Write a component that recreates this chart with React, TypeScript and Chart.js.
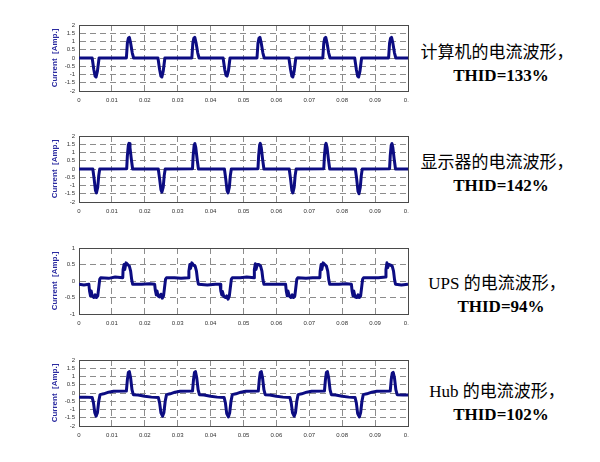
import React, { useEffect, useRef } from 'react';
import { Chart, registerables } from 'chart.js';

Chart.register(...registerables);

// ---- tick values / labels ----
const xTickValues = [0, 0.01, 0.02, 0.03, 0.04, 0.05, 0.06, 0.07, 0.08, 0.09, 0.1];
const xTickLabels = ['0', '0.01', '0.02', '0.03', '0.04', '0.05', '0.06', '0.07', '0.08', '0.09', '0.1'];
const yTicksTwoAmp = [-2, -1.5, -1, -0.5, 0, 0.5, 1, 1.5, 2];
const yLabelsTwoAmp = ['-2', '-1.5', '-1', '-0.5', '0', '0.5', '1', '1.5', '2'];
const yTicksOneAmp = [-1, -0.5, 0, 0.5, 1];
const yLabelsOneAmp = ['-1', '-0.5', '0', '0.5', '1'];

const axisTitle = 'Current  [Amp.]';
const panelNames = ['计算机的电流波形，', '显示器的电流波形，', 'UPS 的电流波形，', 'Hub 的电流波形，'];
const thidLabels = ['THID=133%', 'THID=142%', 'THID=94%', 'THID=102%'];

// ---- waveforms: [time (s), current (A)] ----
const pcWave: [number, number][] = [
  [0, 0],
  [0.0040, 0], [0.0045, -0.7], [0.0049, -1.1], [0.0052, -1.15], [0.0056, -0.8], [0.0061, 0],
  [0.0144, 0], [0.0147, 0.9], [0.0150, 1.2], [0.0153, 1.25], [0.0157, 0.9], [0.0162, 0.3], [0.0166, 0],
  [0.0240, 0], [0.0245, -0.7], [0.0249, -1.1], [0.0252, -1.15], [0.0256, -0.8], [0.0261, 0],
  [0.0343, 0], [0.0346, 0.9], [0.0349, 1.2], [0.0352, 1.25], [0.0356, 0.9], [0.0361, 0.3], [0.0365, 0],
  [0.0438, 0], [0.0443, -0.7], [0.0447, -1.05], [0.0450, -1.1], [0.0454, -0.8], [0.0459, 0],
  [0.0541, 0], [0.0544, 0.9], [0.0547, 1.2], [0.0550, 1.25], [0.0554, 0.9], [0.0559, 0.3], [0.0563, 0],
  [0.0638, 0], [0.0643, -0.7], [0.0647, -1.1], [0.0650, -1.15], [0.0654, -0.8], [0.0659, 0],
  [0.0741, 0], [0.0744, 0.9], [0.0747, 1.2], [0.0750, 1.25], [0.0754, 0.9], [0.0759, 0.3], [0.0763, 0],
  [0.0838, 0], [0.0843, -0.7], [0.0847, -1.1], [0.0850, -1.15], [0.0854, -0.8], [0.0859, 0],
  [0.0941, 0], [0.0944, 0.9], [0.0947, 1.2], [0.0950, 1.25], [0.0954, 0.9], [0.0959, 0.3], [0.0963, 0],
  [0.1, 0],
];

const monitorWave: [number, number][] = [
  [0, 0],
  [0.0042, 0], [0.0046, -0.6], [0.0050, -1.3], [0.0053, -1.45], [0.0057, -1.1], [0.0060, -0.4], [0.0063, 0],
  [0.0145, 0.02], [0.0147, 0.8], [0.0150, 1.45], [0.0152, 1.55], [0.0155, 1.3], [0.0159, 0.6], [0.0163, 0],
  [0.0241, 0], [0.0245, -0.6], [0.0249, -1.25], [0.0252, -1.4], [0.0256, -1.1], [0.0259, -0.4], [0.0262, 0],
  [0.0345, 0.02], [0.0347, 0.8], [0.0350, 1.45], [0.0352, 1.55], [0.0355, 1.3], [0.0359, 0.6], [0.0363, 0],
  [0.0442, 0], [0.0446, -0.6], [0.0450, -1.3], [0.0453, -1.45], [0.0457, -1.1], [0.0460, -0.4], [0.0463, 0],
  [0.0544, 0.02], [0.0546, 0.8], [0.0549, 1.45], [0.0551, 1.55], [0.0554, 1.3], [0.0558, 0.6], [0.0562, 0],
  [0.0639, 0], [0.0643, -0.6], [0.0647, -1.3], [0.0650, -1.45], [0.0654, -1.1], [0.0657, -0.4], [0.0660, 0],
  [0.0744, 0.02], [0.0746, 0.8], [0.0749, 1.45], [0.0751, 1.55], [0.0754, 1.3], [0.0758, 0.6], [0.0762, 0],
  [0.0840, 0], [0.0844, -0.6], [0.0848, -1.35], [0.0851, -1.5], [0.0855, -1.1], [0.0858, -0.4], [0.0861, 0],
  [0.0944, 0.02], [0.0946, 0.8], [0.0949, 1.45], [0.0951, 1.55], [0.0954, 1.3], [0.0958, 0.6], [0.0962, 0],
  [0.1, 0],
];

const upsWave: [number, number][] = [
  [0, -0.1], [0.0015, -0.12], [0.0030, -0.1],
  [0.0032, -0.3], [0.0035, -0.45], [0.0037, -0.3], [0.0040, -0.45], [0.0045, -0.5], [0.0049, -0.42], [0.0053, -0.5], [0.0057, -0.45], [0.0060, -0.2], [0.0063, 0.05], [0.0066, 0.1],
  [0.0090, 0.08], [0.0110, 0.12], [0.0133, 0.1],
  [0.0134, 0.35], [0.0137, 0.5], [0.0139, 0.35], [0.0143, 0.55], [0.0148, 0.5], [0.0153, 0.45], [0.0157, 0.3], [0.0160, 0.05], [0.0163, -0.1],
  [0.0190, -0.1], [0.0215, -0.08], [0.0230, -0.1],
  [0.0232, -0.28], [0.0235, -0.42], [0.0237, -0.3], [0.0240, -0.45], [0.0245, -0.48], [0.0249, -0.4], [0.0253, -0.52], [0.0257, -0.45], [0.0260, -0.2], [0.0263, 0.05], [0.0266, 0.1],
  [0.0290, 0.1], [0.0310, 0.08], [0.0333, 0.1],
  [0.0334, 0.3], [0.0337, 0.5], [0.0339, 0.38], [0.0343, 0.55], [0.0348, 0.48], [0.0353, 0.45], [0.0357, 0.3], [0.0360, 0.05], [0.0363, -0.1],
  [0.0390, -0.12], [0.0415, -0.1], [0.0429, -0.1],
  [0.0431, -0.3], [0.0434, -0.42], [0.0436, -0.32], [0.0440, -0.47], [0.0445, -0.5], [0.0449, -0.45], [0.0453, -0.55], [0.0457, -0.45], [0.0460, -0.2], [0.0463, 0.05], [0.0466, 0.1],
  [0.0490, 0.1], [0.0510, 0.12], [0.0532, 0.1],
  [0.0533, 0.35], [0.0536, 0.52], [0.0538, 0.35], [0.0542, 0.5], [0.0547, 0.5], [0.0552, 0.45], [0.0556, 0.3], [0.0559, 0.05], [0.0562, -0.1],
  [0.0590, -0.1], [0.0612, -0.1], [0.0628, -0.1],
  [0.0630, -0.3], [0.0633, -0.45], [0.0635, -0.3], [0.0639, -0.45], [0.0644, -0.5], [0.0648, -0.42], [0.0652, -0.5], [0.0656, -0.45], [0.0659, -0.2], [0.0662, 0.05], [0.0665, 0.1],
  [0.0690, 0.08], [0.0710, 0.1], [0.0732, 0.1],
  [0.0733, 0.3], [0.0736, 0.5], [0.0738, 0.35], [0.0742, 0.55], [0.0747, 0.5], [0.0752, 0.45], [0.0756, 0.3], [0.0759, 0.05], [0.0762, -0.1],
  [0.0790, -0.1], [0.0812, -0.08], [0.0828, -0.1],
  [0.0830, -0.3], [0.0833, -0.45], [0.0835, -0.3], [0.0839, -0.48], [0.0844, -0.5], [0.0848, -0.42], [0.0852, -0.5], [0.0856, -0.45], [0.0859, -0.2], [0.0862, 0.05], [0.0865, 0.1],
  [0.0890, 0.1], [0.0910, 0.1], [0.0932, 0.12],
  [0.0933, 0.35], [0.0936, 0.55], [0.0938, 0.4], [0.0942, 0.5], [0.0947, 0.48], [0.0952, 0.45], [0.0956, 0.3], [0.0959, 0.05], [0.0962, -0.1],
  [0.0980, -0.12], [0.1, -0.1],
];

const hubWave: [number, number][] = [
  [0, -0.25], [0.0020, -0.25], [0.0040, -0.27],
  [0.0044, -0.6], [0.0048, -1.2], [0.0052, -1.4], [0.0056, -1.2], [0.0060, -0.5], [0.0064, -0.1],
  [0.0075, -0.05], [0.0090, 0.05], [0.0105, 0.1], [0.0144, 0.12],
  [0.0147, 0.8], [0.0150, 1.25], [0.0153, 1.3], [0.0157, 0.9], [0.0161, 0.2], [0.0165, -0.1],
  [0.0180, -0.12], [0.0200, -0.2], [0.0220, -0.25], [0.0241, -0.27],
  [0.0245, -0.6], [0.0249, -1.2], [0.0254, -1.4], [0.0258, -1.2], [0.0262, -0.5], [0.0266, -0.1],
  [0.0277, -0.05], [0.0292, 0.05], [0.0307, 0.1], [0.0345, 0.12],
  [0.0348, 0.8], [0.0351, 1.25], [0.0354, 1.3], [0.0358, 0.9], [0.0362, 0.2], [0.0366, -0.1],
  [0.0380, -0.12], [0.0400, -0.2], [0.0420, -0.25], [0.0441, -0.27],
  [0.0445, -0.6], [0.0449, -1.25], [0.0454, -1.45], [0.0458, -1.2], [0.0462, -0.5], [0.0466, -0.1],
  [0.0477, -0.05], [0.0492, 0.05], [0.0507, 0.1], [0.0545, 0.12],
  [0.0548, 0.8], [0.0551, 1.25], [0.0554, 1.3], [0.0558, 0.9], [0.0562, 0.2], [0.0566, -0.1],
  [0.0580, -0.12], [0.0600, -0.2], [0.0620, -0.25], [0.0641, -0.27],
  [0.0645, -0.6], [0.0649, -1.2], [0.0654, -1.4], [0.0658, -1.2], [0.0662, -0.5], [0.0666, -0.1],
  [0.0677, -0.05], [0.0692, 0.05], [0.0707, 0.1], [0.0746, 0.12],
  [0.0749, 0.8], [0.0752, 1.25], [0.0755, 1.3], [0.0759, 0.9], [0.0763, 0.2], [0.0767, -0.1],
  [0.0780, -0.12], [0.0800, -0.2], [0.0820, -0.25], [0.0839, -0.27],
  [0.0843, -0.6], [0.0847, -1.25], [0.0852, -1.45], [0.0856, -1.2], [0.0860, -0.5], [0.0864, -0.1],
  [0.0875, -0.05], [0.0890, 0.05], [0.0905, 0.1], [0.0946, 0.12],
  [0.0949, 0.8], [0.0952, 1.2], [0.0955, 1.25], [0.0959, 0.9], [0.0963, 0.2], [0.0967, -0.1],
  [0.0985, -0.12], [0.1, -0.12],
];

const NAVY = '#0c0c82';
const FRAME = '#4a4a4a';

const framePlugin = {
  id: 'frame',
  beforeDatasetsDraw(chart: any) {
    const { ctx, chartArea } = chart;
    ctx.save();
    ctx.strokeStyle = FRAME;
    ctx.lineWidth = 1;
    ctx.strokeRect(
      Math.round(chartArea.left) + 0.5,
      Math.round(chartArea.top) + 0.5,
      Math.round(chartArea.right - chartArea.left),
      Math.round(chartArea.bottom - chartArea.top)
    );
    ctx.restore();
  },
};

const PAD_TOP = 14;
const PLOT_H = 66;
const X_AXIS_H = 18;
const CANVAS_W = 409;
const CANVAS_H = PAD_TOP + PLOT_H + X_AXIS_H;

type PanelProps = {
  wave: [number, number][];
  yTicks: number[];
  yLabels: string[];
  plotTop: number;
};

function WavePanel({ wave, yTicks, yLabels, plotTop }: PanelProps) {
  const ref = useRef<HTMLCanvasElement>(null);
  useEffect(() => {
    if (!ref.current) return;
    const yMin = yTicks[0];
    const yMax = yTicks[yTicks.length - 1];
    const chart = new Chart(ref.current, {
      type: 'line',
      data: {
        datasets: [
          {
            data: wave.map(([x, y]) => ({ x, y })),
            borderColor: NAVY,
            borderWidth: 3,
            pointRadius: 0,
            tension: 0,
            fill: false,
            borderJoinStyle: 'round',
          },
        ],
      },
      options: {
        animation: false,
        responsive: false,
        maintainAspectRatio: false,
        events: [],
        layout: { padding: { top: PAD_TOP, right: 1, left: 0, bottom: 0 } },
        plugins: { legend: { display: false }, tooltip: { enabled: false } },
        scales: {
          x: {
            type: 'linear',
            min: 0,
            max: 0.1,
            afterBuildTicks: (s: any) => {
              s.ticks = xTickValues.map((v) => ({ value: v }));
            },
            afterFit: (s: any) => {
              s.height = X_AXIS_H;
              s.paddingLeft = 0;
              s.paddingRight = 0;
            },
            ticks: {
              autoSkip: false,
              maxRotation: 0,
              padding: 6,
              color: '#333',
              font: { size: 6, family: '"Liberation Sans", Arial, sans-serif' },
              callback: (_v: any, i: number) => xTickLabels[i],
            },
            grid: { color: '#8c8c8c', lineWidth: 1, drawTicks: false },
            border: { display: true, color: FRAME, dash: [6, 4] },
          },
          y: {
            type: 'linear',
            min: yMin,
            max: yMax,
            afterBuildTicks: (s: any) => {
              s.ticks = yTicks.map((v) => ({ value: v }));
            },
            afterFit: (s: any) => {
              s.width = 79;
              s.paddingTop = 0;
              s.paddingBottom = 0;
            },
            ticks: {
              autoSkip: false,
              padding: 4,
              color: '#333',
              font: { size: 6, family: '"Liberation Sans", Arial, sans-serif' },
              callback: (_v: any, i: number) => yLabels[i],
            },
            grid: { color: '#8c8c8c', lineWidth: 1, drawTicks: false },
            border: { display: true, color: FRAME, dash: [6, 4] },
            title: {
              display: true,
              text: axisTitle,
              color: '#2b2ba0',
              padding: { top: 50, bottom: 0 },
              font: { size: 8, weight: 'bold', family: '"Liberation Sans", Arial, sans-serif' },
            },
          },
        },
      },
      plugins: [framePlugin],
    } as any);
    return () => chart.destroy();
  }, [wave, yTicks, yLabels]);

  return (
    <canvas
      ref={ref}
      width={CANVAS_W}
      height={CANVAS_H}
      style={{
        position: 'absolute',
        left: 0,
        top: plotTop - PAD_TOP,
        width: CANVAS_W,
        height: CANVAS_H,
        display: 'block',
      }}
    />
  );
}

const panelPlotTops = [25, 136, 248, 360];
const panelTextY = [[53, 76], [163, 186], [284, 307], [392, 415]];

export default function App() {
  const waves = [pcWave, monitorWave, upsWave, hubWave];
  return (
    <div
      style={{
        position: 'absolute',
        left: 0,
        top: 0,
        width: 600,
        height: 462,
        background: '#ffffff',
        overflow: 'hidden',
      }}
    >
      {waves.map((w, i) => (
        <WavePanel
          key={i}
          wave={w}
          yTicks={i === 2 ? yTicksOneAmp : yTicksTwoAmp}
          yLabels={i === 2 ? yLabelsOneAmp : yLabelsTwoAmp}
          plotTop={panelPlotTops[i]}
        />
      ))}
      {panelNames.map((name, i) => (
        <React.Fragment key={'t' + i}>
          <div
            style={{
              position: 'absolute',
              left: 497,
              top: panelTextY[i][0],
              transform: 'translate(-50%, -50%)',
              whiteSpace: 'nowrap',
              fontFamily: '"Liberation Serif", "Noto Sans CJK SC", serif',
              fontSize: 17,
              lineHeight: '20px',
              color: '#000',
            }}
          >
            {name}
          </div>
          <div
            style={{
              position: 'absolute',
              left: 501,
              top: panelTextY[i][1],
              transform: 'translate(-50%, -50%)',
              whiteSpace: 'nowrap',
              fontFamily: '"Liberation Serif", serif',
              fontSize: 17,
              fontWeight: 'bold',
              lineHeight: '20px',
              color: '#000',
            }}
          >
            {thidLabels[i]}
          </div>
        </React.Fragment>
      ))}
    </div>
  );
}
